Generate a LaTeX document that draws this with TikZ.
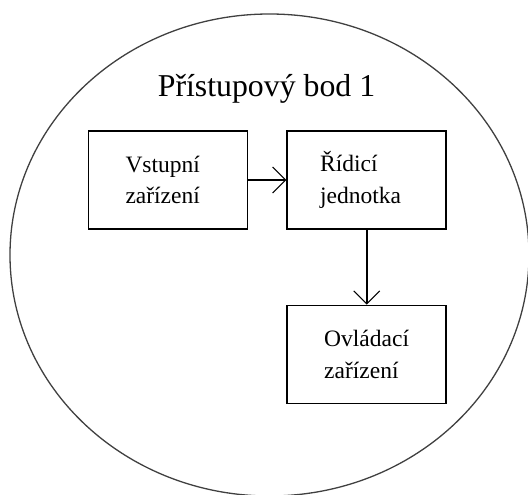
\documentclass[tikz,border=0pt]{standalone}
\usepackage{fontspec}
\setmainfont{Liberation Serif}
\usetikzlibrary{arrows.meta,shapes.geometric}

\tikzset{
  unit/.style={draw, rectangle, line width=1.6pt, minimum width=159pt,
    minimum height=98pt, align=left, inner xsep=37pt, text width=85pt,
    font=\fontsize{23.5}{31.5}\selectfont},
  flow/.style={line width=1.6pt,
    -{Straight Barb[length=13pt,width=26pt,line width=1.1pt]}},
}

\begin{document}
\begin{tikzpicture}[x=1pt,y=-1pt]
  \useasboundingbox (0,0) rectangle (528,495);

  % access point boundary
  \node[draw=black!75, ellipse, line width=1.3pt, inner sep=0pt,
        minimum width=519pt, minimum height=482pt] (ap) at (269.5,255) {};
  \node[anchor=base, font=\fontsize{31.8}{36}\selectfont] (title) at (266.5,96)
    {Přístupový bod 1};

  % functional blocks
  \node[unit] (input) at (168,180) {Vstupní\\zařízení};
  \node[unit, inner xsep=33pt, text width=93pt] (control) at (366.7,180)
    {Řídicí\\jednotka};
  \node[unit] (output) at (366.7,354.5) {Ovládací\\zařízení};

  % signal flow
  \draw[flow] (input) -- (control);
  \draw[flow] (control) -- (output);
\end{tikzpicture}
\end{document}
